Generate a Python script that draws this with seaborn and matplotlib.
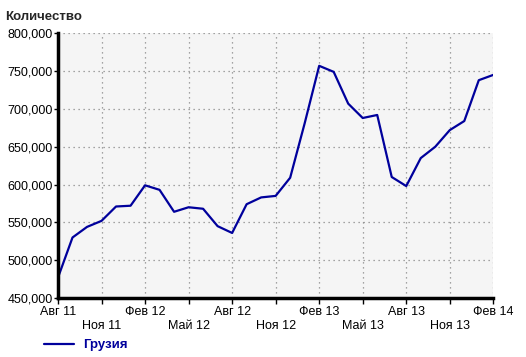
import matplotlib
matplotlib.use("Agg")
import matplotlib.pyplot as plt
import seaborn as sns
import pandas as pd
from matplotlib.ticker import FixedLocator, FuncFormatter

months = ["Авг 11", "Сен 11", "Окт 11", "Ноя 11", "Дек 11", "Янв 12", "Фев 12", "Мар 12",
          "Апр 12", "Май 12", "Июн 12", "Июл 12", "Авг 12", "Сен 12", "Окт 12", "Ноя 12",
          "Дек 12", "Янв 13", "Фев 13", "Мар 13", "Апр 13", "Май 13", "Июн 13", "Июл 13",
          "Авг 13", "Сен 13", "Окт 13", "Ноя 13", "Дек 13", "Янв 14", "Фев 14"]
values = [477000, 530000, 544000, 552000, 571000, 572000, 599000, 593000,
          564000, 570000, 568000, 545000, 536000, 574000, 583000, 585000,
          609000, 681000, 757000, 749000, 707000, 688000, 692000, 610000,
          598000, 635000, 650000, 672000, 684000, 738000, 745000]
series_name = "Грузия"
y_title = "Количество"

df = pd.DataFrame({"idx": range(len(months)), "value": values, "series": series_name})

sns.set_style("white")
plt.rcParams["font.family"] = ["Liberation Sans", "DejaVu Sans"]

fig = plt.figure(figsize=(5.26, 3.57), dpi=100)
ax = fig.add_axes([58/526, 1-298/357, (493.3-58)/526, (298-33.3)/357])
ax.set_facecolor("#f5f5f5")
line_color = "#00009c"

sns.lineplot(data=df, x="idx", y="value", hue="series", palette=[line_color],
             linewidth=1.6, ax=ax, legend=True)

ax.set_xlim(0, len(months)-1)
ax.set_ylim(450000, 800000)
ax.set_yticks(range(450000, 800001, 50000))
ax.yaxis.set_major_formatter(FuncFormatter(lambda v, p: f"{int(v):,}"))

major = list(range(0, len(months), 6))
minor = list(range(3, len(months), 6))
ax.xaxis.set_major_locator(FixedLocator(major))
ax.xaxis.set_minor_locator(FixedLocator(minor))
ax.set_xticklabels([months[i] for i in major])
ax.set_xticklabels([months[i] for i in minor], minor=True)
ax.tick_params(axis="x", which="major", length=4, width=1, pad=2, labelsize=9, colors="black")
ax.tick_params(axis="x", which="minor", length=4, width=1, pad=12, labelsize=9, colors="black")
ax.tick_params(axis="y", length=3, width=1, pad=1, labelsize=9, colors="black")
ax.tick_params(axis="x", which="both", bottom=True)
ax.tick_params(axis="y", left=True)

ax.grid(True, which="both", axis="x", color="#888888", linestyle=(0, (1, 3)), linewidth=0.9)
ax.grid(True, which="major", axis="y", color="#888888", linestyle=(0, (1, 3)), linewidth=0.9)
ax.set_axisbelow(True)

for s in ["top", "right"]:
    ax.spines[s].set_visible(False)
for s in ["left", "bottom"]:
    ax.spines[s].set_color("black")
    ax.spines[s].set_linewidth(2.5)

ax.set_xlabel("")
ax.set_ylabel("")
fig.text(5/526, 1-17/357, y_title, fontsize=9.5, fontweight="bold", ha="left", va="center")

leg = ax.legend(loc="center left", bbox_to_anchor=(32/526, 1-345/357), bbox_transform=fig.transFigure,
                frameon=False, handlelength=2.3, handletextpad=0.7, fontsize=9.5)
for t in leg.get_texts():
    t.set_color(line_color)
    t.set_fontweight("bold")

fig.savefig("out.png", dpi=100, facecolor="white")
